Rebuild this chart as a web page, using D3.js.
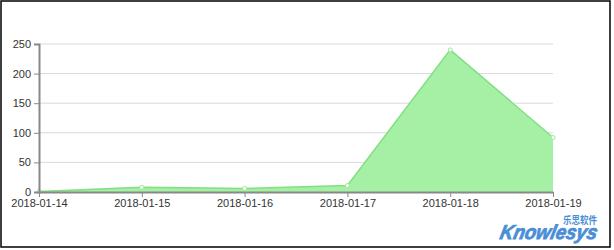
<!DOCTYPE html>
<html><head><meta charset="utf-8">
<script src="https://d3js.org/d3.v7.min.js"></script>
<style>body{margin:0;background:#fff;}svg{display:block;}</style>
</head><body>
<script>
const categories = ["2018-01-14","2018-01-15","2018-01-16","2018-01-17","2018-01-18","2018-01-19"];
const values = [1, 8, 6, 11, 240, 92];
const yTicks = [0, 50, 100, 150, 200, 250];

const W = 614, H = 250;
const svg = d3.select("body").append("svg").attr("width", W).attr("height", H);
svg.append("rect").attr("x",1).attr("y",1).attr("width",609).attr("height",246)
  .attr("fill","#fff").attr("stroke","#000").attr("stroke-width",1.5);

const x = d3.scalePoint().domain(categories).range([39, 553]);
const y = d3.scaleLinear().domain([0, 250]).range([192, 44]);

// grid
svg.append("g").selectAll("line").data(yTicks.slice(1)).join("line")
  .attr("x1", 39).attr("x2", 553).attr("y1", d => y(d)).attr("y2", d => y(d))
  .attr("stroke", "#d9d9d9").attr("stroke-width", 1);

const area = d3.area().x((d,i) => x(categories[i])).y0(y(0)).y1(d => y(d));
const line = d3.line().x((d,i) => x(categories[i])).y(d => y(d));
svg.append("path").datum(values).attr("d", area).attr("fill", "#a6f0a6");
svg.append("path").datum(values).attr("d", line).attr("fill", "none").attr("stroke", "#80e080").attr("stroke-width", 1.5);
svg.append("g").selectAll("circle").data(values).join("circle")
  .attr("cx", (d,i) => x(categories[i])).attr("cy", d => y(d)).attr("r", 2)
  .attr("fill", "#fff").attr("stroke", "#9be89b").attr("stroke-width", 1);

// y axis
const ya = svg.append("g").attr("transform", "translate(39,0)")
  .call(d3.axisLeft(y).tickValues(yTicks).tickSize(5).tickPadding(3));
ya.select(".domain").attr("stroke", "#888").attr("stroke-width", 2);
ya.selectAll(".tick line").attr("stroke", "#888");
ya.selectAll("text").attr("fill", "#333").style("font-family", "'Liberation Sans', Arial, sans-serif").style("font-size", "11px");

// x axis
const xa = svg.append("g").attr("transform", "translate(0,192)")
  .call(d3.axisBottom(x).tickSize(5).tickPadding(2).tickSizeOuter(0));
xa.select(".domain").attr("stroke", "#888").attr("stroke-width", 2);
xa.selectAll(".tick line").attr("stroke", "#888");
xa.selectAll("text").attr("fill", "#333").style("font-family", "'Liberation Sans', Arial, sans-serif").style("font-size", "11px");

// watermark
svg.append("text").attr("transform", "translate(499,239) skewX(-12)").text("Knowlesys")
  .attr("fill", "#4a8ed6").attr("stroke", "#4a8ed6").attr("stroke-width", 0.8)
  .style("font-family", "'Liberation Sans', Arial, sans-serif")
  .style("font-size", "20px").style("font-weight", "bold").style("font-style", "italic")
  .attr("textLength", 97).attr("lengthAdjust", "spacingAndGlyphs");
svg.append("text").attr("x", 563).attr("y", 224).text("乐思软件")
  .attr("fill", "#4a8ed6").style("font-family", "'Noto Sans CJK SC', sans-serif")
  .style("font-size", "10px").style("font-weight", "bold")
  .attr("textLength", 34).attr("lengthAdjust", "spacingAndGlyphs");
</script>
</body></html>
